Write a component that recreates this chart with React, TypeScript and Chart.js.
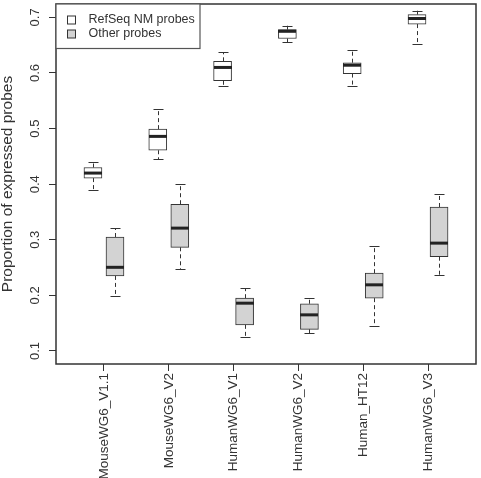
import { useEffect, useRef } from "react";
import { Chart, registerables } from "chart.js";

Chart.register(...registerables);

// Platforms on the x axis
const categories = [
  "MouseWG6_V1.1",
  "MouseWG6_V2",
  "HumanWG6_V1",
  "HumanWG6_V2",
  "Human_HT12",
  "HumanWG6_V3",
];

const seriesNames = ["RefSeq NM probes", "Other probes"];

// Five-number summaries, RefSeq NM probes
const refseqMin = [0.39, 0.445, 0.577, 0.655, 0.577, 0.652];
const refseqQ1 = [0.411, 0.461, 0.586, 0.662, 0.599, 0.688];
const refseqMedian = [0.42, 0.486, 0.61, 0.675, 0.614, 0.698];
const refseqQ3 = [0.43, 0.499, 0.621, 0.678, 0.6185, 0.705];
const refseqMax = [0.44, 0.535, 0.637, 0.685, 0.641, 0.712];

// Five-number summaries, other probes
const otherMin = [0.199, 0.247, 0.126, 0.132, 0.1455, 0.2367];
const otherQ1 = [0.235, 0.2865, 0.147, 0.139, 0.195, 0.2696];
const otherMedian = [0.2505, 0.321, 0.186, 0.165, 0.219, 0.294];
const otherQ3 = [0.305, 0.364, 0.195, 0.185, 0.24, 0.359];
const otherMax = [0.321, 0.401, 0.2128, 0.196, 0.289, 0.382];

const yTicks = [0.1, 0.2, 0.3, 0.4, 0.5, 0.6, 0.7];

const FONT = "'Liberation Sans', Arial, Helvetica, sans-serif";
const INK = "#333333";
const GREY_FILL = "#d3d3d3";
const BOX_PX = 18;
const SHIFT = 0.17; // offset of each box from its platform position

const series = [
  { name: seriesNames[0], fill: "#ffffff", shift: -SHIFT, min: refseqMin, q1: refseqQ1, med: refseqMedian, q3: refseqQ3, max: refseqMax },
  { name: seriesNames[1], fill: GREY_FILL, shift: SHIFT, min: otherMin, q1: otherQ1, med: otherMedian, q3: otherQ3, max: otherMax },
];

// whiskers, caps and medians drawn over the floating-bar boxes
const whiskerPlugin = {
  id: "whiskers",
  afterDatasetsDraw(chart: any) {
    const { ctx, scales } = chart;
    const xs = scales.x;
    const ys = scales.y;
    ctx.save();
    series.forEach((s) => {
      s.q1.forEach((_: number, i: number) => {
        const xc = Math.round(xs.getPixelForValue(i + 1 + s.shift));
        const xl = xc + 0.5;
        const pMin = ys.getPixelForValue(s.min[i]);
        const pQ1 = ys.getPixelForValue(s.q1[i]);
        const pMed = ys.getPixelForValue(s.med[i]);
        const pQ3 = ys.getPixelForValue(s.q3[i]);
        const pMax = ys.getPixelForValue(s.max[i]);
        ctx.strokeStyle = INK;
        ctx.lineWidth = 1;
        // dashed whiskers
        ctx.setLineDash([4, 3]);
        ctx.beginPath();
        ctx.moveTo(xl, pQ3);
        ctx.lineTo(xl, pMax);
        ctx.moveTo(xl, pQ1);
        ctx.lineTo(xl, pMin);
        ctx.stroke();
        // caps
        ctx.setLineDash([]);
        ctx.beginPath();
        ctx.moveTo(xc - 4.5, Math.round(pMax) + 0.5);
        ctx.lineTo(xc + 5.5, Math.round(pMax) + 0.5);
        ctx.moveTo(xc - 4.5, Math.round(pMin) + 0.5);
        ctx.lineTo(xc + 5.5, Math.round(pMin) + 0.5);
        ctx.stroke();
        // median
        ctx.strokeStyle = "#222222";
        ctx.lineWidth = 3;
        ctx.beginPath();
        ctx.moveTo(xc - BOX_PX / 2, pMed);
        ctx.lineTo(xc + BOX_PX / 2, pMed);
        ctx.stroke();
      });
    });
    ctx.restore();
  },
  afterDraw(chart: any) {
    const { ctx, chartArea } = chart;
    ctx.save();
    // plot frame
    ctx.strokeStyle = INK;
    ctx.lineWidth = 1.5;
    ctx.strokeRect(
      chartArea.left,
      chartArea.top,
      chartArea.right - chartArea.left,
      chartArea.bottom - chartArea.top
    );
    // legend box in the upper-left corner
    const lx = chartArea.left;
    const ly = chartArea.top;
    ctx.lineWidth = 1.2;
    ctx.strokeStyle = "#555555";
    ctx.fillStyle = "#ffffff";
    ctx.fillRect(lx, ly, 144, 44.5);
    ctx.strokeRect(lx, ly, 144, 44.5);
    ctx.font = `12.5px ${FONT}`;
    ctx.textBaseline = "middle";
    ctx.textAlign = "left";
    series.forEach((s, k) => {
      const cy = ly + 16 + k * 14;
      ctx.fillStyle = s.fill;
      ctx.fillRect(lx + 11.5, cy - 4, 8, 8);
      ctx.strokeStyle = INK;
      ctx.lineWidth = 1;
      ctx.strokeRect(lx + 11.5, cy - 4, 8, 8);
      ctx.fillStyle = "#333333";
      ctx.fillText(s.name, lx + 32.5, cy);
    });
    ctx.restore();
  },
};

export default function App() {
  const canvasRef = useRef<HTMLCanvasElement | null>(null);

  useEffect(() => {
    if (!canvasRef.current) return;
    const datasets = series.map((s) => ({
      label: s.name,
      data: s.q1.map((q: number, i: number) => ({ x: i + 1 + s.shift, y: [q, s.q3[i]] })),
      backgroundColor: s.fill,
      borderColor: INK,
      borderWidth: 1,
      borderSkipped: false,
      barThickness: BOX_PX,
      grouped: false,
    }));

    const chart = new Chart(canvasRef.current, {
      type: "bar",
      data: { datasets: datasets as any },
      options: {
        animation: false,
        responsive: true,
        maintainAspectRatio: false,
        layout: { padding: { top: 4, right: 5, left: 0, bottom: 0 } },
        plugins: {
          legend: { display: false },
          tooltip: { enabled: false },
        },
        scales: {
          x: {
            type: "linear",
            offset: false,
            min: 1 - 48 / 64.85,
            max: 6 + 48 / 64.85,
            afterBuildTicks: (scale: any) => {
              scale.ticks = categories.map((_, i) => ({ value: i + 1 }));
            },
            afterFit: (scale: any) => {
              scale.height = 114;
              scale.paddingLeft = 0;
              scale.paddingRight = 0;
            },
            grid: {
              offset: false,
              drawOnChartArea: false,
              drawTicks: true,
              tickLength: 7,
              color: INK,
            },
            border: { display: false },
            ticks: {
              autoSkip: false,
              minRotation: 90,
              maxRotation: 90,
              padding: 2,
              color: "#333333",
              font: { family: FONT, size: 13.5 },
              callback: (_v: any, idx: number) => categories[idx],
            },
          },
          y: {
            type: "linear",
            min: 0.0766,
            max: 0.7241,
            afterBuildTicks: (scale: any) => {
              scale.ticks = yTicks.map((v) => ({ value: v }));
            },
            afterFit: (scale: any) => {
              scale.width = 56;
              scale.paddingTop = 0;
              scale.paddingBottom = 0;
            },
            grid: {
              drawOnChartArea: false,
              drawTicks: true,
              tickLength: 7,
              color: INK,
            },
            border: { display: false },
            ticks: {
              minRotation: 90,
              maxRotation: 90,
              crossAlign: "center",
              padding: 5,
              color: "#333333",
              font: { family: FONT, size: 13 },
              callback: (v: any) => Number(v).toFixed(1),
            },
            title: {
              display: true,
              text: "Proportion of expressed probes",
              color: "#333333",
              padding: 0,
              font: { family: FONT, size: 15.5, lineHeight: 1 },
            },
          },
        },
      } as any,
      plugins: [whiskerPlugin],
    });
    return () => chart.destroy();
  }, []);

  return (
    <div style={{ position: "absolute", left: 0, top: 0, width: 481, height: 478 }}>
      <canvas ref={canvasRef} />
    </div>
  );
}
